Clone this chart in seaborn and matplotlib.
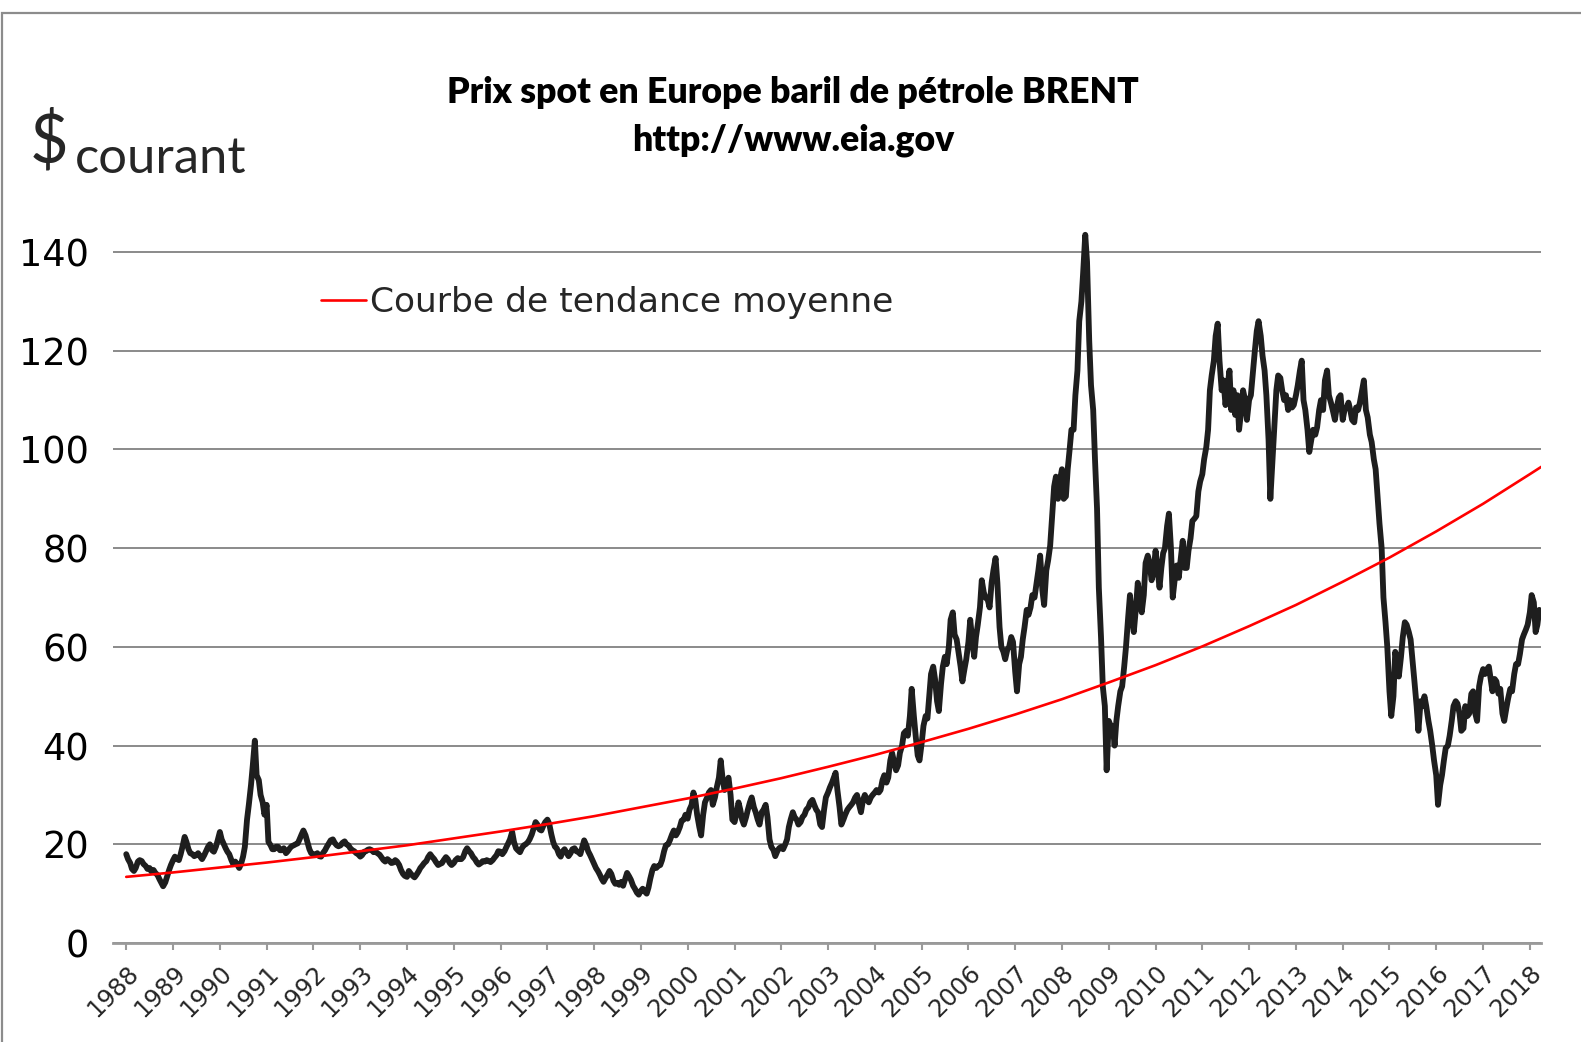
import matplotlib
matplotlib.use('Agg')
import matplotlib.pyplot as plt
from matplotlib.patches import Rectangle
import seaborn as sns
import pandas as pd

# --- DATA: Brent spot price (two readings per month, 1st and 15th) ---
p1988 = [18.0, 17.0, 16.2, 15.0, 14.6, 15.2, 16.5, 16.8, 16.6, 16.0, 15.6, 15.0, 15.2, 14.5, 14.8, 14.2, 13.8, 13.0, 12.2, 11.5, 12.3, 13.5, 14.8, 15.8]
p1989 = [16.8, 17.5, 17.0, 16.8, 18.0, 19.5, 21.5, 20.5, 19.0, 18.2, 18.0, 17.6, 17.8, 18.2, 17.5, 17.0, 17.8, 18.6, 19.5, 20.0, 18.8, 18.5, 19.5, 20.8]
p1990 = [22.5, 21.0, 20.0, 19.2, 18.5, 18.0, 16.8, 16.0, 16.5, 16.0, 15.2, 16.0, 17.5, 19.5, 25.0, 28.0, 32.0, 36.0, 41.0, 34.0, 33.0, 30.0, 28.5, 26.0]
p1991 = [28.0, 20.5, 19.8, 19.0, 19.0, 19.5, 19.5, 18.8, 18.8, 19.2, 18.2, 18.6, 19.2, 19.6, 19.8, 20.0, 20.2, 21.0, 22.0, 22.8, 21.8, 20.5, 19.0, 18.2]
p1992 = [18.0, 17.8, 18.2, 17.6, 17.5, 18.2, 18.8, 19.5, 20.2, 20.8, 21.0, 20.3, 19.8, 19.6, 19.8, 20.3, 20.6, 20.0, 19.8, 19.2, 18.8, 18.6, 18.2, 18.0]
p1993 = [17.5, 17.8, 18.5, 18.6, 18.9, 19.0, 18.8, 18.4, 18.5, 18.2, 17.9, 17.4, 16.8, 16.5, 17.0, 16.7, 16.2, 16.3, 16.8, 16.5, 15.8, 14.8, 14.0, 13.6]
p1994 = [13.4, 14.6, 14.0, 13.6, 13.3, 13.8, 14.5, 15.2, 15.7, 16.2, 16.6, 17.4, 18.0, 17.5, 17.0, 16.4, 15.8, 16.0, 16.2, 16.8, 17.4, 17.0, 16.2, 15.8]
p1995 = [16.2, 16.8, 17.2, 17.0, 17.0, 17.4, 18.6, 19.2, 18.6, 18.2, 17.4, 17.0, 16.3, 15.9, 16.2, 16.6, 16.5, 16.8, 16.6, 16.4, 16.8, 17.3, 17.8, 18.6]
p1996 = [18.5, 18.0, 18.6, 19.4, 20.2, 21.0, 22.5, 20.5, 19.2, 18.8, 18.4, 19.2, 19.8, 20.0, 20.4, 21.0, 22.0, 23.2, 24.5, 24.0, 23.0, 22.8, 23.8, 24.5]
p1997 = [25.0, 24.2, 22.0, 20.5, 19.5, 19.2, 18.0, 17.5, 18.6, 19.0, 18.2, 17.6, 18.2, 19.0, 19.2, 18.6, 18.4, 18.0, 19.5, 20.8, 19.8, 18.6, 17.8, 17.0]
p1998 = [16.0, 15.2, 14.5, 13.8, 13.0, 12.4, 13.2, 13.8, 14.6, 14.0, 12.6, 12.0, 12.2, 11.8, 12.4, 11.6, 13.0, 14.2, 13.5, 12.8, 11.6, 11.0, 10.2, 9.8]
p1999 = [10.6, 11.0, 10.4, 10.0, 11.2, 13.0, 14.8, 15.6, 15.2, 15.6, 15.8, 16.8, 18.6, 19.8, 20.0, 20.8, 22.0, 22.8, 21.8, 22.4, 23.5, 24.8, 25.0, 26.0]
p2000 = [25.2, 27.0, 28.0, 30.5, 29.0, 26.0, 23.5, 21.8, 26.0, 28.5, 29.5, 30.5, 31.0, 28.0, 29.5, 31.5, 33.5, 37.0, 33.0, 31.0, 32.5, 33.5, 30.0, 25.0]
p2001 = [24.5, 26.0, 28.5, 27.0, 25.0, 24.0, 25.5, 27.0, 28.5, 29.5, 27.5, 26.5, 25.0, 24.0, 26.5, 27.0, 28.0, 25.5, 21.0, 19.5, 18.8, 17.6, 18.6, 19.2]
p2002 = [19.5, 19.0, 20.0, 21.0, 23.5, 25.0, 26.5, 25.5, 25.0, 24.0, 24.5, 25.5, 26.0, 27.0, 27.5, 28.5, 29.0, 28.0, 27.0, 26.5, 24.0, 23.5, 27.0, 29.5]
p2003 = [30.5, 31.5, 32.5, 33.5, 34.5, 31.0, 27.5, 24.0, 25.0, 26.0, 27.0, 27.5, 28.0, 28.5, 29.5, 30.0, 28.0, 26.5, 29.0, 30.0, 29.0, 28.5, 29.5, 30.0]
p2004 = [30.5, 31.0, 30.5, 31.0, 33.0, 34.0, 32.5, 33.5, 37.0, 38.5, 36.5, 35.0, 36.0, 38.5, 40.0, 42.5, 43.0, 42.0, 46.0, 51.5, 46.0, 42.0, 38.0, 37.0]
p2005 = [40.5, 44.0, 46.0, 45.5, 50.0, 54.5, 56.0, 53.5, 49.0, 47.0, 52.5, 56.0, 58.0, 56.5, 60.0, 65.5, 67.0, 62.5, 61.5, 59.0, 56.0, 53.0, 55.5, 57.5]
p2006 = [61.0, 65.5, 61.0, 58.0, 62.0, 64.5, 68.0, 73.5, 71.0, 70.0, 69.5, 68.0, 73.0, 75.5, 78.0, 73.0, 64.0, 60.0, 59.0, 57.5, 59.5, 60.0, 62.0, 61.0]
p2007 = [55.0, 51.0, 56.5, 58.0, 61.5, 64.0, 67.5, 66.5, 68.0, 70.5, 70.0, 72.5, 75.5, 78.5, 71.5, 68.5, 75.5, 77.5, 80.5, 86.0, 92.5, 94.5, 90.0, 93.5]
p2008 = [96.0, 90.0, 90.5, 96.0, 100.0, 104.0, 104.0, 111.0, 116.0, 126.0, 130.0, 136.0, 143.5, 138.0, 122.0, 113.0, 108.0, 98.0, 88.0, 72.0, 62.0, 52.0, 48.0, 35.0]
p2009 = [45.0, 44.0, 44.0, 40.0, 45.0, 48.0, 51.0, 52.0, 56.0, 60.0, 66.0, 70.5, 66.0, 63.0, 68.0, 73.0, 70.0, 67.0, 70.5, 77.0, 78.5, 77.0, 73.5, 75.0]
p2010 = [79.5, 76.0, 72.0, 76.0, 79.0, 80.0, 84.5, 87.0, 80.0, 70.0, 74.0, 76.5, 74.0, 77.5, 81.5, 76.0, 76.0, 79.5, 82.0, 85.5, 86.0, 86.5, 91.5, 93.5]
p2011 = [95.0, 98.0, 100.5, 104.0, 112.0, 115.0, 118.0, 123.0, 125.5, 118.0, 112.0, 114.0, 109.0, 112.5, 116.0, 108.0, 112.0, 107.0, 111.0, 104.0, 108.0, 112.0, 110.0, 106.0]
p2012 = [110.0, 111.0, 116.0, 120.0, 124.0, 126.0, 123.0, 119.0, 116.0, 111.0, 102.0, 90.0, 97.5, 104.0, 112.0, 115.0, 114.5, 112.0, 110.0, 111.0, 108.0, 110.0, 108.5, 109.0]
p2013 = [111.0, 113.0, 116.0, 118.0, 110.0, 108.0, 104.0, 99.5, 102.0, 104.0, 103.0, 104.5, 108.0, 110.0, 108.0, 114.0, 116.0, 111.0, 109.5, 108.0, 106.0, 108.5, 110.5, 111.0]
p2014 = [106.0, 108.0, 108.5, 109.5, 108.0, 106.0, 105.5, 108.5, 108.0, 109.5, 112.0, 114.0, 108.0, 106.5, 103.0, 101.5, 98.0, 96.0, 90.0, 85.0, 80.0, 70.0, 65.0, 60.0]
p2015 = [51.0, 46.0, 50.0, 59.0, 57.0, 54.0, 58.0, 62.0, 65.0, 64.5, 63.0, 61.5, 57.0, 53.0, 48.0, 43.0, 49.0, 48.0, 50.0, 48.0, 45.0, 43.0, 40.0, 37.0]
p2016 = [34.0, 28.0, 32.0, 34.0, 37.0, 39.5, 40.0, 42.0, 45.0, 48.0, 49.0, 48.5, 46.5, 43.0, 43.5, 48.0, 46.0, 46.5, 50.5, 51.0, 46.5, 45.0, 52.0, 54.0]
p2017 = [55.5, 54.5, 55.5, 56.0, 53.5, 51.0, 53.5, 53.0, 50.5, 51.5, 46.5, 45.0, 47.5, 49.5, 51.5, 51.0, 54.5, 56.5, 56.5, 58.5, 61.5, 62.5, 63.5, 64.5]
p2018 = [67.0, 70.5, 69.0, 63.0, 64.5, 67.5, 66.5]

# exponential trend line ("Courbe de tendance moyenne"), read at each 1st of January
trend_years = list(range(1988, 2019))
trend_values = [13.4, 14.3, 15.3, 16.3, 17.4, 18.6, 19.8, 21.2, 22.6, 24.1,
                25.7, 27.5, 29.3, 31.3, 33.4, 35.7, 38.1, 40.7, 43.4, 46.3,
                49.4, 52.8, 56.3, 60.1, 64.2, 68.5, 73.2, 78.1, 83.4, 89.0, 95.0]
trend_end = ('2018-04-01', 96.5)

year_labels = [str(y) for y in range(1988, 2019)]
y_ticks = [0, 20, 40, 60, 80, 100, 120, 140]

price = (p1988 + p1989 + p1990 + p1991 + p1992 + p1993 + p1994 + p1995 + p1996 + p1997
         + p1998 + p1999 + p2000 + p2001 + p2002 + p2003 + p2004 + p2005 + p2006 + p2007
         + p2008 + p2009 + p2010 + p2011 + p2012 + p2013 + p2014 + p2015 + p2016 + p2017 + p2018)
df = pd.DataFrame({'date': pd.date_range('1988-01-01', periods=len(price), freq='SMS'),
                   'prix': price})
trend = pd.DataFrame({'date': [pd.Timestamp(f'{y}-01-01') for y in trend_years] + [pd.Timestamp(trend_end[0])],
                      'prix': trend_values + [trend_end[1]]})

# --- STYLE ---
sns.set_style('white')
plt.rcParams['font.family'] = ['DejaVu Sans']

fig = plt.figure(figsize=(15.81, 10.42), dpi=100)
ax = fig.add_axes([0.0715, 0.095, 0.9032, 0.6915])

sns.lineplot(data=df, x='date', y='prix', ax=ax, color='#1e1e1e', linewidth=4.2)
sns.lineplot(data=trend, x='date', y='prix', ax=ax, color='#ff0000', linewidth=1.9,
             label='Courbe de tendance moyenne')

ax.set_xlim(pd.Timestamp('1987-09-20'), pd.Timestamp('2018-03-29'))
ax.set_ylim(0, 146)
ax.set_xlabel('')
ax.set_ylabel('')

# horizontal gridlines like Excel
ax.set_yticks(y_ticks)
ax.yaxis.grid(True, color='#8a8a8a', linewidth=1.4)
ax.xaxis.grid(False)
ax.set_axisbelow(True)
for s in ['top', 'right', 'left']:
    ax.spines[s].set_visible(False)
ax.spines['bottom'].set_color('#9a9a9a')
ax.spines['bottom'].set_linewidth(2.0)

ax.tick_params(axis='y', length=0, pad=17, labelsize=26.5, labelcolor='black')
ax.set_xticks([pd.Timestamp(f'{y}-01-01') for y in range(1988, 2019)])
ax.set_xticklabels(year_labels)
ax.tick_params(axis='x', direction='out', length=5, width=1.5, color='#9a9a9a',
               bottom=True, pad=8, labelsize=17.5)
for lbl in ax.get_xticklabels():
    lbl.set_rotation(45)
    lbl.set_ha('right')
    lbl.set_va('top')
    lbl.set_rotation_mode('anchor')

leg = ax.legend(loc='center left', bbox_to_anchor=(0.1457, 0.889), frameon=False,
                fontsize=24.8, handlelength=1.3, handletextpad=0.12,
                borderpad=0, borderaxespad=0)

# --- TITLES ---
fig.text(0.5016, 0.9012, 'Prix spot en Europe baril de pétrole BRENT', family='Lato',
         fontweight='heavy', fontsize=25.7, ha='center', va='baseline', color='black')
fig.text(0.5016, 0.856, 'http://www.eia.gov', family='Lato', fontweight='heavy',
         fontsize=25.7, ha='center', va='baseline', color='black')
fig.text(0.0190, 0.8445, '$', family='Lato', fontsize=48, ha='left', va='baseline')
fig.text(0.0474, 0.834, 'courant', family='Lato', fontsize=36.5, ha='left', va='baseline')

# outer frame of the original picture (top and left edges)
fig.patches.append(Rectangle((0.0015, -0.1), 1.2, 1.088, transform=fig.transFigure,
                             fill=False, edgecolor='#8c8c8c', linewidth=1.6))

plt.savefig('out.png', dpi=100)
